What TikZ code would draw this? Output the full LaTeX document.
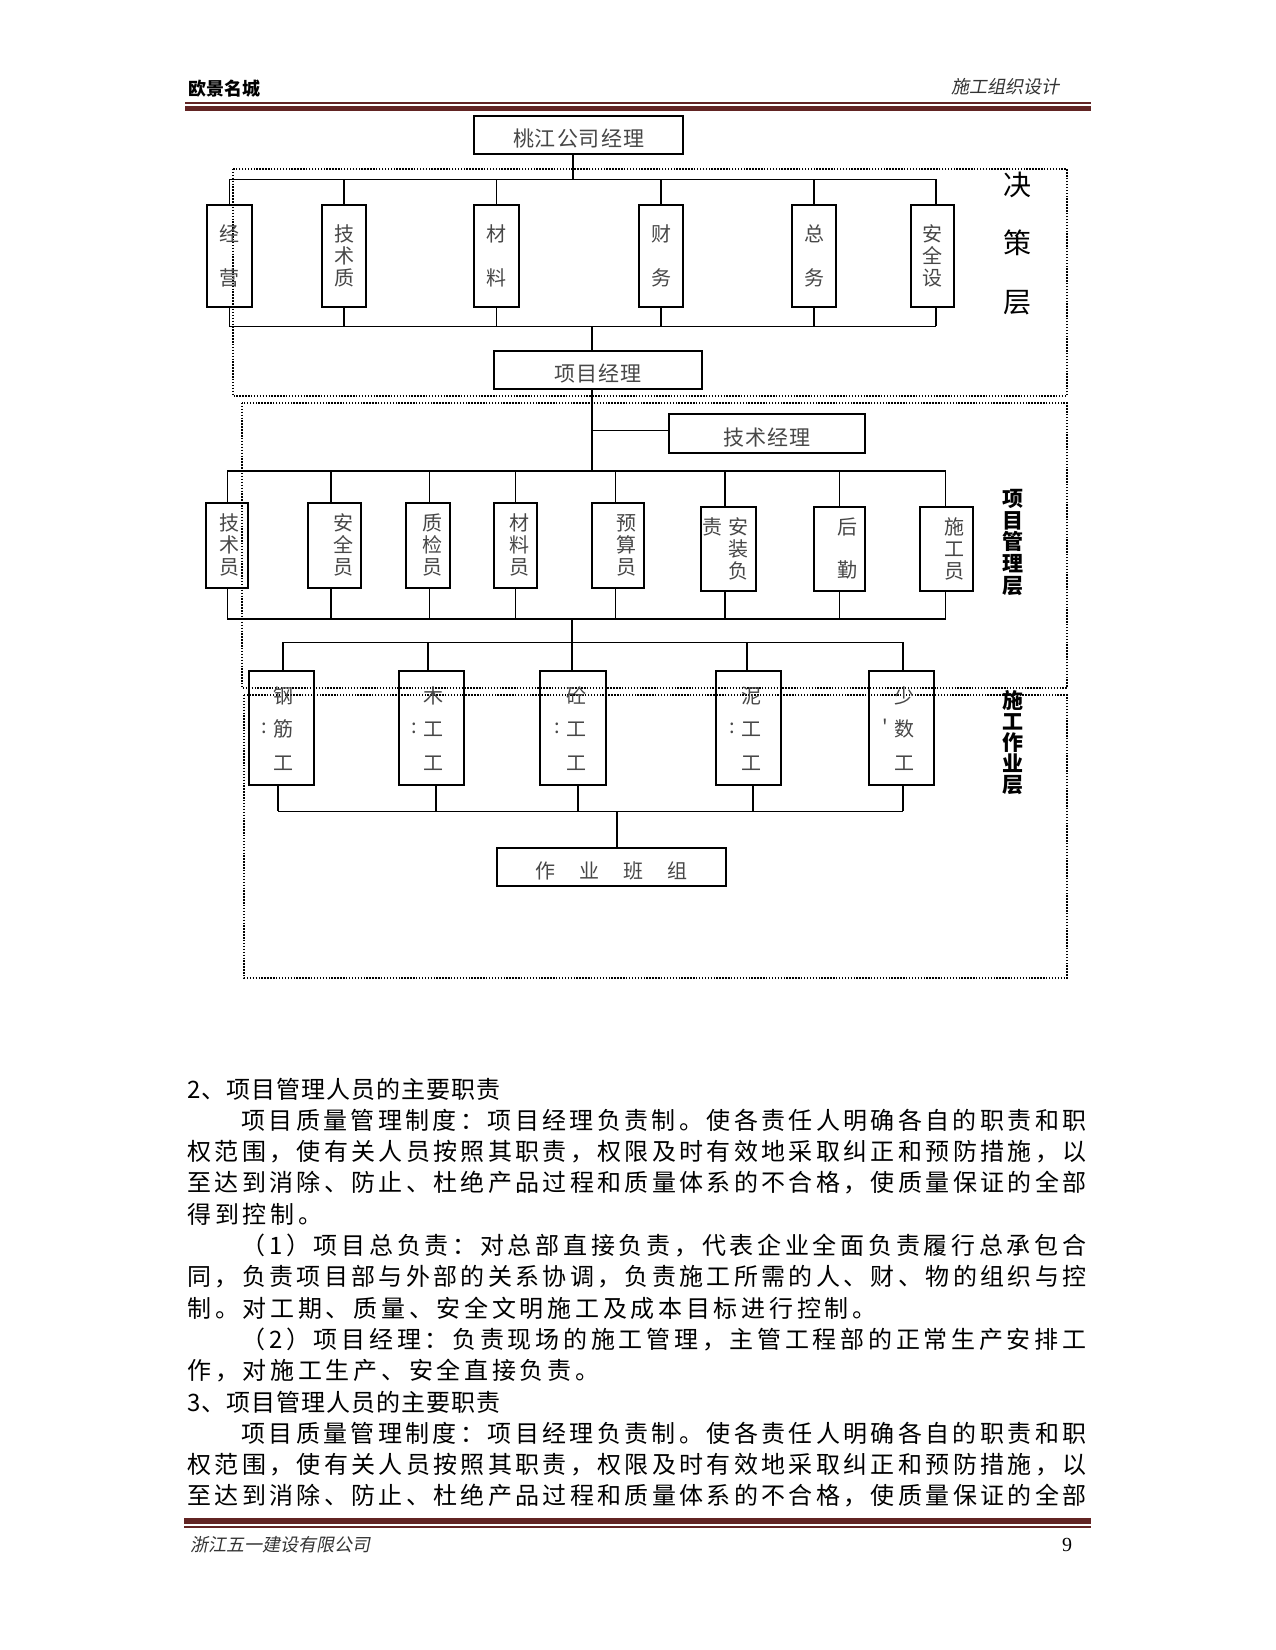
\documentclass[tikz,border=0pt]{standalone}
\usepackage{fontspec}
\newfontfamily\cjk{Noto Sans CJK SC}
\newfontfamily\cjkit[FakeSlant=0.2]{Noto Sans CJK SC}
\newfontfamily\numfont{Liberation Serif}
\definecolor{rulered}{HTML}{622423}
\newdimen\px \px=0.48pt
\ExplSyntaxOn
\NewDocumentCommand\spreadtext{mm}{\hbox to #1 {\tl_map_inline:nn{#2}{##1\hfil}\unskip}}
\ExplSyntaxOff
\newcommand\lowered[1]{\raisebox{-4\px}[\height][\depth]{#1}}
\tikzset{
  box/.style={draw, line width=0.85pt, inner sep=0pt, text=black!72,
    font=\cjk\fontsize{9.6}{10.56}\selectfont, align=center},
  vt/.style={inner sep=0pt, text=black!72, align=center,
    font=\cjk\fontsize{9.6}{10.56}\selectfont},
  ln/.style={line width=0.45pt},
  lnb/.style={line width=0.8pt},
  frame/.style={line width=0.7pt, dash pattern=on 0.7pt off 0.7pt},
  body/.style={inner sep=0pt, anchor=base west, font=\cjk\fontsize{11.52}{13}\selectfont},
  hdr/.style={inner sep=0pt, font=\cjk\fontsize{8.64}{10}\selectfont},
  hdrit/.style={inner sep=0pt, font=\cjkit\fontsize{8.64}{10}\selectfont, text=black!80},
  layer/.style={inner sep=0pt, align=center},
}
\begin{document}
\begin{tikzpicture}[x=0.48pt,y=-0.48pt]
\useasboundingbox (0,0) rectangle (1275,1650);
\fill[white] (0,0) rectangle (1275,1650);

% header and footer
\node[hdr, anchor=base west] (hl) at (188,96) {\bfseries 欧景名城};
\node[hdrit, anchor=base east] (hr) at (1060,94) {施工组织设计};
\draw[rulered, line width=0.5pt] (185,103) -- (1091,103);
\fill[rulered] (185,106) rectangle (1091,111);
\fill[rulered] (184,1518) rectangle (1091,1524);
\draw[rulered, line width=0.5pt] (184,1527) -- (1091,1527);
\node[hdrit, anchor=base west] (fl) at (190,1551) {浙江五一建设有限公司};
\node[inner sep=0pt, font=\numfont\fontsize{9.6}{11}\selectfont] (fr) at (1067,1545) {9};

% dotted layer frames
\draw[frame] (233,169) rectangle (1067,396);
\draw[frame] (242,403) rectangle (1067,688);
\draw[frame] (244,695) rectangle (1067,978);

% layer labels
\node[layer, font=\cjk\fontsize{13.44}{28.08}\selectfont] (L1) at (1017,243.5) {决\\策\\层};
\node[layer, font=\cjk\bfseries\fontsize{10.08}{10.44}\selectfont] (L2) at (1013,542.5) {项\\目\\管\\理\\层};
\node[layer, font=\cjk\bfseries\fontsize{10.08}{10.08}\selectfont] (L3) at (1013,742.5) {施\\工\\作\\业\\层};

% top boxes
\node[box, minimum width=209\px, minimum height=38\px, font=\cjk\fontsize{10.08}{11}\selectfont] (T) at (578.5,135) {\lowered{\spreadtext{131\px}{桃江公司经理}}};

% row 1
\node[box, minimum width=45\px, minimum height=102\px] (A1) at (229.5,256) {经\\[22\px]营};
\node[box, minimum width=44\px, minimum height=102\px] (A2) at (344,256) {技\\术\\质};
\node[box, minimum width=45\px, minimum height=102\px] (A3) at (496.5,256) {材\\[22\px]料};
\node[box, minimum width=44\px, minimum height=102\px] (A4) at (661,256) {财\\[22\px]务};
\node[box, minimum width=44\px, minimum height=102\px] (A5) at (814,256) {总\\[22\px]务};
\node[box, minimum width=43\px, minimum height=102\px] (A6) at (932.5,256) {安\\全\\设};

\node[box, minimum width=208\px, minimum height=38\px, font=\cjk\fontsize{10.08}{11}\selectfont] (PM) at (598,370) {\lowered{\spreadtext{87\px}{项目经理}}};
\node[box, minimum width=196\px, minimum height=39\px, font=\cjk\fontsize{10.08}{11}\selectfont] (TM) at (767,433.5) {\lowered{\spreadtext{87\px}{技术经理}}};

% row 2
\node[box, minimum width=42\px, minimum height=85\px] (B1) at (227,545.5) {};
\node[box, minimum width=53\px, minimum height=85\px] (B2) at (334.5,545.5) {};
\node[box, minimum width=44\px, minimum height=85\px] (B3) at (428,545.5) {};
\node[box, minimum width=43\px, minimum height=85\px, line width=0.6pt] (B4) at (515.5,545.5) {};
\node[box, minimum width=52\px, minimum height=85\px] (B5) at (618,545.5) {};
\node[box, minimum width=55\px, minimum height=84\px] (B6) at (728.5,549) {};
\node[box, minimum width=51\px, minimum height=84\px, line width=0.6pt] (B7) at (839.5,549) {};
\node[box, minimum width=53\px, minimum height=84\px, line width=0.6pt] (B8) at (946.5,549) {};
\node[vt] (B1t) at (229,545) {技\\术\\员};
\node[vt] (B2t) at (343,545) {安\\全\\员};
\node[vt] (B3t) at (432,545) {质\\检\\员};
\node[vt] (B4t) at (519,545) {材\\料\\员};
\node[vt] (B5t) at (626,545) {预\\算\\员};
\node[vt] (B6t) at (738,548.5) {安\\装\\负};
\node[vt] (B6s) at (712,527) {责};
\node[vt] (B7t) at (847,548.5) {后\\[21\px]勤};
\node[vt] (B8t) at (954,548.5) {施\\工\\员};

% row 3
\node[box, minimum width=65\px, minimum height=114\px] (C1) at (281.5,728) {};
\node[box, minimum width=65\px, minimum height=114\px] (C2) at (431.5,728) {};
\node[box, minimum width=66\px, minimum height=114\px] (C3) at (573,728) {};
\node[box, minimum width=65\px, minimum height=114\px] (C4) at (748.5,728) {};
\node[box, minimum width=65\px, minimum height=114\px] (C5) at (901.5,728) {};
\node[vt] (C1t) at (283,728.5) {钢\\[11.5\px]筋\\[11.5\px]工};
\node[vt] (C2t) at (433,728.5) {木\\[11.5\px]工\\[11.5\px]工};
\node[vt] (C3t) at (576,728.5) {砼\\[11.5\px]工\\[11.5\px]工};
\node[vt] (C4t) at (751,728.5) {泥\\[11.5\px]工\\[11.5\px]工};
\node[vt] (C5t) at (904,728.5) {少\\[11.5\px]数\\[11.5\px]工};
\node[vt] (C1c) at (264,728) {:};
\node[vt] (C2c) at (414,728) {:};
\node[vt] (C3c) at (557,728) {:};
\node[vt] (C4c) at (732,728) {:};
\node[vt] (C5c) at (885,727) {'};

\node[box, minimum width=229\px, minimum height=38\px] (W) at (611.5,867) {\lowered{\spreadtext{153\px}{作业班组}}};

% connectors
\coordinate (bus1L) at (229,179); \coordinate (bus1R) at (936,179);
\coordinate (bus2L) at (229,326); \coordinate (bus2R) at (936,326);
\draw[lnb] ([xshift=-5.5\px]T.south) -- ([xshift=-5.5\px]T.south |- bus1L);
\draw[ln] (bus1L) -- (bus1R);
\draw[ln] (bus2L) -- (bus2R);
\foreach \n/\s in {A1/0,A2/0,A3/0,A4/0,A5/0,A6/3.5}{
  \draw[lnb] ([xshift=\s\px]\n.north) -- ([xshift=\s\px]\n.north |- bus1L);
  \draw[lnb] ([xshift=\s\px]\n.south) -- ([xshift=\s\px]\n.south |- bus2L);
}
\draw[lnb] ([xshift=-6\px]PM.north) -- ([xshift=-6\px]PM.north |- bus2L);

\coordinate (bus3L) at (227,471); \coordinate (bus3R) at (946,471);
\coordinate (bus4L) at (227,619); \coordinate (bus4R) at (946,619);
\coordinate (br) at (592,430);
\draw[lnb] ([xshift=-6\px]PM.south) -- ([xshift=-6\px]PM.south |- bus3L);
\draw[ln] (br) -- (TM.west |- br);
\draw[lnb] (bus3L) -- (bus3R);
\draw[lnb] (bus4L) -- (bus4R);
\foreach \n/\s/\w in {B1/0/ln,B2/-3.5/lnb,B3/1/ln,B4/0/ln,B5/-3/ln,B6/-3.5/lnb,B7/0/ln,B8/-1.5/ln}{
  \draw[\w] ([xshift=\s\px]\n.north) -- ([xshift=\s\px]\n.north |- bus3L);
  \draw[\w] ([xshift=\s\px]\n.south) -- ([xshift=\s\px]\n.south |- bus4L);
}

\coordinate (m2) at (572,619);
\coordinate (bus5L) at (283,642); \coordinate (bus5R) at (903,642);
\coordinate (bus6L) at (278,811); \coordinate (bus6R) at (903,811);
\draw[lnb] (m2) -- (m2 |- bus5L);
\draw[ln] (bus5L) -- (bus5R);
\draw[ln] (bus6L) -- (bus6R);
\foreach \n/\s/\t in {C1/1.5/-3.5,C2/-3.5/4.5,C3/-1/5,C4/-1.5/4.5,C5/1.5/1.5}{
  \draw[lnb] ([xshift=\s\px]\n.north) -- ([xshift=\s\px]\n.north |- bus5L);
  \draw[lnb] ([xshift=\t\px]\n.south) -- ([xshift=\t\px]\n.south |- bus6L);
}
\draw[lnb] ([xshift=5.5\px]W.north) -- ([xshift=5.5\px]W.north |- bus6L);

% body text
\node[body] (p0) at (187,1098) {\spreadtext{313\px}{2、项目管理人员的主要职责}};
\node[body] (p1) at (241,1129.3) {\spreadtext{845\px}{项目质量管理制度：项目经理负责制。使各责任人明确各自的职责和职}};
\node[body] (p2) at (187,1160.6) {\spreadtext{899\px}{权范围，使有关人员按照其职责，权限及时有效地采取纠正和预防措施，以}};
\node[body] (p3) at (187,1191.9) {\spreadtext{899\px}{至达到消除、防止、杜绝产品过程和质量体系的不合格，使质量保证的全部}};
\node[body] (p4) at (187,1223.2) {\spreadtext{135\px}{得到控制。}};
\node[body] (p5) at (241,1254.5) {\spreadtext{845\px}{（1）项目总负责：对总部直接负责，代表企业全面负责履行总承包合}};
\node[body] (p6) at (187,1285.8) {\spreadtext{899\px}{同，负责项目部与外部的关系协调，负责施工所需的人、财、物的组织与控}};
\node[body] (p7) at (187,1317.1) {\spreadtext{689\px}{制。对工期、质量、安全文明施工及成本目标进行控制。}};
\node[body] (p8) at (241,1348.4) {\spreadtext{845\px}{（2）项目经理：负责现场的施工管理，主管工程部的正常生产安排工}};
\node[body] (p9) at (187,1379.7) {\spreadtext{412\px}{作，对施工生产、安全直接负责。}};
\node[body] (p10) at (187,1411) {\spreadtext{313\px}{3、项目管理人员的主要职责}};
\node[body] (p11) at (241,1442.3) {\spreadtext{845\px}{项目质量管理制度：项目经理负责制。使各责任人明确各自的职责和职}};
\node[body] (p12) at (187,1473.6) {\spreadtext{899\px}{权范围，使有关人员按照其职责，权限及时有效地采取纠正和预防措施，以}};
\node[body] (p13) at (187,1504.9) {\spreadtext{899\px}{至达到消除、防止、杜绝产品过程和质量体系的不合格，使质量保证的全部}};
\end{tikzpicture}
\end{document}
